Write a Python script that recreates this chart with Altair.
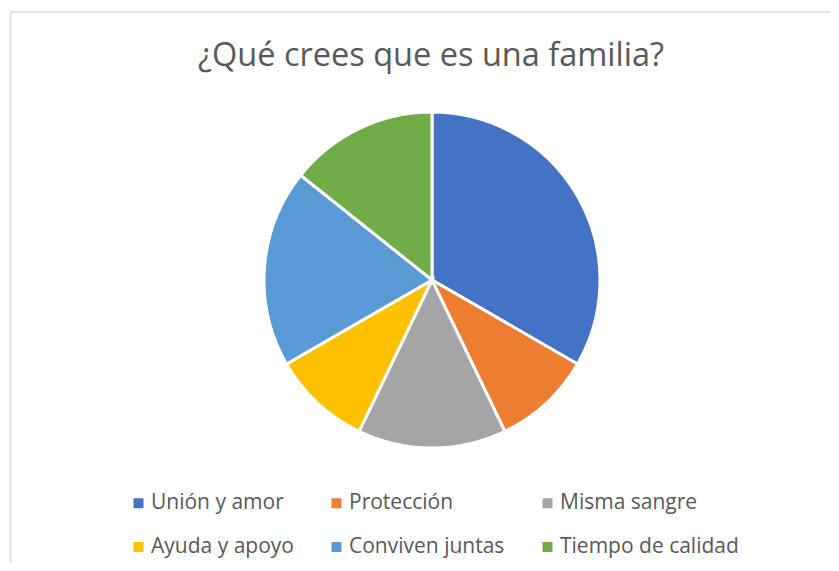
import altair as alt
import pandas as pd

title_text = "¿Qué crees que es una familia?"
categories = ["Unión y amor", "Protección", "Misma sangre", "Ayuda y apoyo", "Conviven juntas", "Tiempo de calidad"]
values = [7, 2, 3, 2, 4, 3]
colors = ["#4472C4", "#ED7D31", "#A5A5A5", "#FFC000", "#5B9BD5", "#70AD47"]

df = pd.DataFrame({"cat": categories, "val": values, "idx": list(range(len(categories)))})

W, H = 823, 555

pie = alt.Chart(df).mark_arc(outerRadius=168, stroke="white", strokeWidth=3).encode(
    theta=alt.Theta("val:Q", stack=True),
    order=alt.Order("idx:Q"),
    color=alt.Color(
        "cat:N",
        sort=categories,
        scale=alt.Scale(domain=categories, range=colors),
        legend=alt.Legend(
            title=None,
            orient="none",
            legendX=120,
            legendY=484.5,
            direction="horizontal",
            columns=3,
            gridAlign="each",
            symbolType="square",
            symbolSize=100,
            symbolStrokeWidth=0,
            labelFont="Open Sans",
            labelFontSize=21,
            labelColor="#595959",
            labelOffset=2,
            columnPadding=32,
            rowPadding=22,
            labelLimit=300,
        ),
    ),
    x=alt.value(424),
    y=alt.value(272),
)

title = alt.Chart(pd.DataFrame({"t": [title_text]})).mark_text(
    font="Open Sans", fontSize=32.5, color="#595959", align="center", baseline="alphabetic"
).encode(text="t:N", x=alt.value(423), y=alt.value(58))

border_v = alt.Chart(pd.DataFrame({"a": [0]})).mark_rule(color="#d9d9d9", strokeWidth=1.5).encode(
    x=alt.value(2.5), y=alt.value(4), y2=alt.value(H)
)
border_h = alt.Chart(pd.DataFrame({"a": [0]})).mark_rule(color="#d9d9d9", strokeWidth=1.5).encode(
    x=alt.value(2.5), x2=alt.value(W), y=alt.value(4)
)

chart = alt.layer(border_v, border_h, pie, title).properties(
    width=W, height=H, autosize=alt.AutoSizeParams(type="none"), padding=0
).configure_view(stroke=None)

chart.save("out.html", embed_options={"renderer": "svg", "actions": False})
